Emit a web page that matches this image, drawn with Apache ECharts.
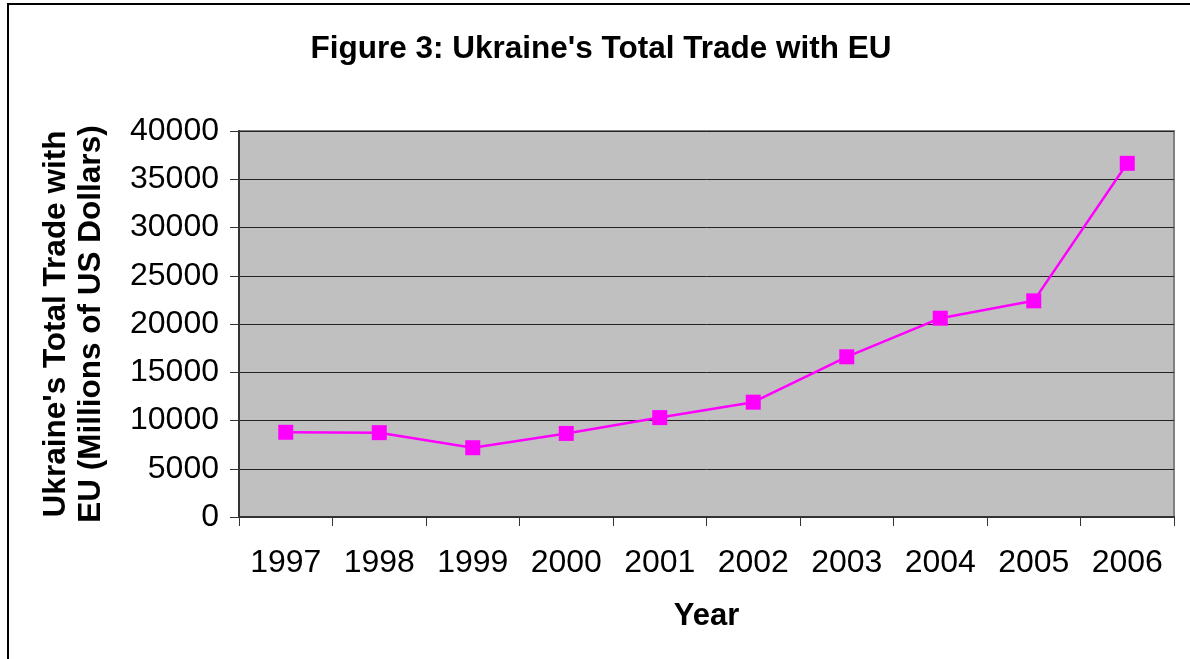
<!DOCTYPE html>
<html>
<head>
<meta charset="utf-8">
<script src="https://cdn.jsdelivr.net/npm/echarts@6/dist/echarts.min.js"></script>
<style>
    html, body { margin: 0; padding: 0; background: #fff; overflow: hidden; }
    #frame { position: absolute; left: 7px; top: 3px; width: 2000px; height: 2000px; border-left: 2px solid #000; border-top: 2px solid #000; }
    #chart_con { position: absolute; left: 0; top: 0; width: 1190px; height: 659px; }
</style>
</head>
<body>
<div id="frame"></div>
<div id="chart_con"></div>
<script>
    var years = ['1997', '1998', '1999', '2000', '2001', '2002', '2003', '2004', '2005', '2006'];
    var trade = [8780, 8740, 7180, 8660, 10300, 11900, 16600, 20600, 22400, 36650];

    var font = 'Liberation Sans, Arial, sans-serif';

    var option = {
        animation: false,
        title: {
            text: "Figure 3: Ukraine's Total Trade with EU",
            left: 596,
            top: 28,
            textAlign: 'center',
            textStyle: { fontFamily: font, fontSize: 31.5, fontWeight: 'bold', color: '#000' }
        },
        grid: {
            left: 239,
            top: 131,
            right: 16,
            bottom: 142,
            outerBoundsMode: 'none',
            containLabel: false,
            show: true,
            backgroundColor: '#c0c0c0',
            borderColor: '#808080',
            borderWidth: 2
        },
        xAxis: {
            type: 'category',
            data: years,
            boundaryGap: true,
            name: 'Year',
            nameLocation: 'middle',
            nameGap: 84,
            nameTextStyle: { fontFamily: font, fontSize: 31, fontWeight: 'bold', color: '#000' },
            axisLine: { lineStyle: { color: '#333', width: 2 } },
            axisTick: { show: true, length: 9, lineStyle: { color: '#333', width: 1 } },
            axisLabel: { fontFamily: font, fontSize: 32, color: '#000', margin: 30 }
        },
        yAxis: {
            type: 'value',
            min: 0,
            max: 40000,
            interval: 5000,
            name: "Ukraine's Total Trade with\nEU (Millions of US Dollars)",
            nameLocation: 'middle',
            nameRotate: 90,
            nameGap: 130,
            nameTextStyle: { fontFamily: font, fontSize: 31.5, fontWeight: 'bold', color: '#000', lineHeight: 35 },
            axisLine: { show: true, lineStyle: { color: '#333', width: 2 } },
            axisTick: { show: true, length: 9, lineStyle: { color: '#333', width: 1 } },
            axisLabel: {
                fontFamily: font, fontSize: 32, color: '#000', margin: 20,
                formatter: function (v) { return String(v); }
            },
            splitLine: { show: true, lineStyle: { color: '#222', width: 1 } }
        },
        series: [{
            type: 'line',
            data: trade,
            symbol: 'rect',
            symbolSize: 15,
            lineStyle: { color: '#ff00ff', width: 2.5 },
            itemStyle: { color: '#ff00ff' }
        }]
    };

    var chart = echarts.init(document.getElementById('chart_con'));
    chart.setOption(option);
    window.addEventListener('resize', function () {
        chart.resize();
    });
</script>
</body>
</html>
